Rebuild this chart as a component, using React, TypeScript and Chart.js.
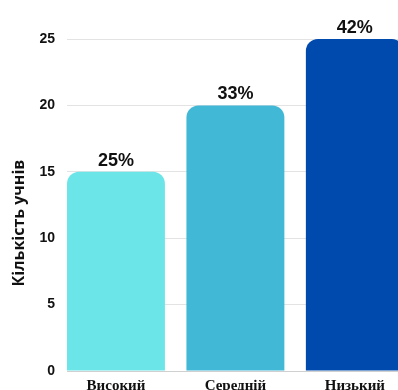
import React, { useEffect, useRef } from "react";
import { Chart, registerables } from "chart.js";

Chart.register(...registerables);

const categories = ["Високий", "Середній", "Низький"];
const values = [15, 20, 25];
const percentLabels = ["25%", "33%", "42%"];
const barColors = ["#6CE5E8", "#41B8D5", "#004AAD"];
const yTicks = [0, 5, 10, 15, 20, 25];
const yTitle = "Кількість учнів";

const SANS = "'Liberation Sans', Arial, sans-serif";
const TITLE_FONT = "'Open Sans', 'Liberation Sans', sans-serif";
const SERIF = "'Liberation Serif', 'Times New Roman', serif";

const valueLabelPlugin = {
  id: "valueLabels",
  afterDatasetsDraw(chart: any) {
    const ctx = chart.ctx;
    const meta = chart.getDatasetMeta(0);
    ctx.save();
    ctx.font = `bold 18px ${SANS}`;
    ctx.fillStyle = "#111111";
    ctx.textAlign = "center";
    ctx.textBaseline = "alphabetic";
    meta.data.forEach((bar: any, i: number) => {
      ctx.fillText(percentLabels[i], bar.x, bar.y - 6);
    });
    ctx.restore();
  },
};

const yTitlePlugin = {
  id: "yTitle",
  afterDraw(chart: any) {
    const ctx = chart.ctx;
    const area = chart.chartArea;
    ctx.save();
    ctx.translate(11, (area.top + area.bottom) / 2 + 18);
    ctx.rotate(-Math.PI / 2);
    ctx.font = `bold 16px ${TITLE_FONT}`;
    ctx.fillStyle = "#111111";
    ctx.textAlign = "center";
    ctx.textBaseline = "middle";
    ctx.fillText(yTitle, 0, 0);
    ctx.restore();
  },
};

export default function App() {
  const ref = useRef<HTMLCanvasElement>(null);
  useEffect(() => {
    document.documentElement.style.overflow = "hidden";
    document.body.style.overflow = "hidden";
    document.body.style.marginRight = "0px";
    if (!ref.current) return;
    const chart = new Chart(ref.current, {
      type: "bar",
      data: {
        datasets: [
          {
            data: values.map((v, i) => ({ x: i, y: v })),
            backgroundColor: barColors,
            borderRadius: { topLeft: 12, topRight: 12, bottomLeft: 0, bottomRight: 0 },
            borderSkipped: false,
            categoryPercentage: 0.82,
            barPercentage: 1,
          },
        ],
      },
      options: {
        responsive: false,
        animation: false,
        layout: { padding: { top: 31, right: 10, left: 0, bottom: 0 } },
        plugins: { legend: { display: false }, tooltip: { enabled: false } },
        scales: {
          x: {
            type: "linear",
            offset: false,
            min: -0.41,
            max: 2.78,
            afterBuildTicks: (scale: any) => {
              scale.ticks = categories.map((_, i) => ({ value: i }));
            },
            afterFit: (scale: any) => {
              scale.height = 37;
            },
            ticks: {
              autoSkip: false,
              maxRotation: 0,
              padding: 6,
              color: "#111111",
              font: { family: SERIF, weight: "bold", size: 15 },
              callback: (v: any) => categories[Math.round(Number(v))] ?? "",
            },
            grid: { display: false, drawTicks: false, offset: false },
            border: { display: true, color: "#d0d0d0", width: 1 },
          },
          y: {
            min: 0,
            max: 25,
            afterBuildTicks: (scale: any) => {
              scale.ticks = yTicks.map((v) => ({ value: v }));
            },
            afterFit: (scale: any) => {
              scale.width = 59;
            },
            ticks: {
              padding: 12,
              color: "#111111",
              font: { family: SANS, weight: "bold", size: 14 },
            },
            grid: { color: "#e3e3e3", drawTicks: false },
            border: { display: false },
          },
        },
      },
      plugins: [valueLabelPlugin, yTitlePlugin],
    });
    return () => chart.destroy();
  }, []);
  return (
    <div style={{ width: 390, height: 382, overflow: "hidden" }}>
      <canvas ref={ref} width={450} height={400} style={{ display: "block" }} />
    </div>
  );
}
